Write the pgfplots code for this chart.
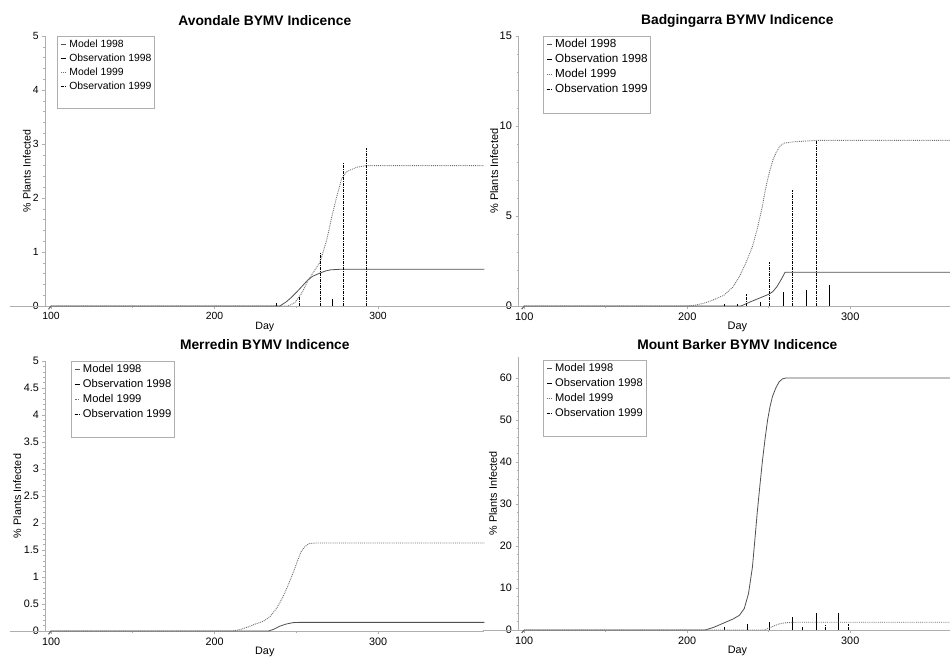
\documentclass[border=0pt]{standalone}
\usepackage{fontspec}
\setmainfont{Liberation Sans}
\usepackage{pgfplots}
\pgfplotsset{compat=1.18}

\definecolor{axgray}{RGB}{175,175,175}
\definecolor{modelA}{RGB}{80,80,80}
\definecolor{modelB}{RGB}{110,110,110}

\pgfplotsset{
  panel/.style={
    scale only axis, clip=false,
    axis x line*=bottom, axis y line*=left,
    axis line style={axgray, line width=0.8pt},
    tick style={axgray, line width=0.6pt},
    tick align=outside,
    major tick length=3pt, minor tick length=2pt,
    xmin=96.5, xmax=365, ymin=0,
    xtick={100,200,300}, minor x tick num=1,
    /pgf/number format/assume math mode=true,
    xlabel={Day}, ylabel={\% Plants Infected},
    xlabel style={at={(axis description cs:0.5,0)}, anchor=center, yshift=-21pt},
    title style={font=\fontsize{13.8}{16}\selectfont\bfseries, at={(axis description cs:0.5,1)}, anchor=center},
    legend cell align=left,
    legend image code/.code={\draw[##1] (0pt,0pt) -- (5pt,0pt);},
    legend style={anchor=north west, draw=axgray, line width=0.6pt,
      nodes={inner sep=0pt, text height=8pt, text depth=2pt},
      column sep=3pt, inner xsep=3pt, inner ysep=3pt},
  },
  mod98/.style={modelA, line width=0.8pt},
  mod99/.style={modelB, line width=0.9pt, densely dotted},
  obs98/.style={black, line width=0.8pt, ycomb},
  obs99/.style={black, line width=0.8pt, ycomb, dash pattern=on 3pt off 1pt on 1pt off 1pt},
}

\begin{document}
\begin{tikzpicture}
\useasboundingbox (0,0) rectangle (950pt,657pt);
\clip (0,0) rectangle (950pt,657pt);

% Avondale
\begin{axis}[panel, at={(45.3pt,351pt)}, anchor=south west,
  width=439pt, height=270pt, ymax=5, ytick={0,1,2,3,4,5}, minor y tick num=4,
  title={Avondale BYMV Indicence}, title style={yshift=9.3pt},
  ylabel style={at={(axis description cs:-0.042,0.5)}, anchor=center},
  ticklabel style={font=\fontsize{10.4}{12}\selectfont},
  label style={font=\fontsize{10.6}{12}\selectfont},
  legend style={at={(axis description cs:0.027,1)}, font=\fontsize{10.4}{12}\selectfont, row sep=4pt},
]
\draw[axgray, line width=0.8pt] (axis cs:75,0) -- (axis cs:96.5,0);
\addplot[mod98] coordinates {(98.5,-0.06) (100,0) (240,0) (244,0.08) (247,0.16) (250,0.25) (254,0.38) (257,0.48) (260,0.55) (264.5,0.61) (268,0.65) (271,0.67) (277,0.68) (365,0.68)};
\addlegendentry{Model 1998}
\addplot[obs98] coordinates {(238,0.05) (272,0.13)};
\addlegendentry{Observation 1998}
\addplot[mod99] coordinates {(98.5,-0.06) (100,0) (245,0) (249,0.06) (253,0.22) (257,0.46) (261,0.65) (264.5,0.81) (268.6,1.22) (271.7,1.65) (274.7,2.02) (277.8,2.36) (280.9,2.49) (287,2.57) (293,2.6) (365,2.6)};
\addlegendentry{Model 1999}
\addplot[obs99] coordinates {(251.7,0.17) (265,0.98) (279,2.65) (293,2.92)};
\addlegendentry{Observation 1999}
\addlegendimage{empty legend}\addlegendentry{}
\end{axis}

% Badgingarra
\begin{axis}[panel, at={(518.5pt,351pt)}, anchor=south west,
  width=437.7pt, height=270pt, ymax=15, ytick={0,5,10,15}, minor y tick num=4,
  title={Badgingarra BYMV Indicence}, title style={yshift=9.3pt},
  ylabel style={at={(axis description cs:-0.0558,0.5)}, anchor=center},
  ticklabel style={font=\fontsize{11}{12}\selectfont},
  label style={font=\fontsize{11}{12}\selectfont},
  legend style={at={(axis description cs:0.056,1)}, font=\fontsize{11.7}{13}\selectfont, row sep=5.2pt},
]
\draw[axgray, line width=0.8pt] (axis cs:75,0) -- (axis cs:96.5,0);
\addplot[mod98] coordinates {(98.5,-0.17) (100,0) (233,0) (240,0.28) (246,0.5) (250,0.65) (252.5,0.8) (255,1.07) (257.5,1.45) (260,1.87) (365,1.87)};
\addlegendentry{Model 1998}
\addplot[obs98] coordinates {(222.7,0.12) (230.6,0.1) (244.6,0.24) (258.9,0.76) (272.8,0.89) (287,1.17)};
\addlegendentry{Observation 1998}
\addplot[mod99] coordinates {(98.5,-0.17) (100,0) (200,0) (205,0.05) (210,0.15) (215,0.3) (222.7,0.61) (228,1.05) (232,1.63) (236,2.4) (240,3.3) (243,4.3) (246,5.5) (248,6.5) (250.3,7.4) (252.5,8.1) (254.4,8.5) (257,8.9) (259.5,9.05) (265,9.12) (279,9.2) (365,9.2)};
\addlegendentry{Model 1999}
\addplot[obs99] coordinates {(236.4,0.67) (250.5,2.46) (264.6,6.44) (279,9.22)};
\addlegendentry{Observation 1999}
\addlegendimage{empty legend}\addlegendentry{}
\end{axis}

% Merredin
\begin{axis}[panel, at={(45.3pt,26pt)}, anchor=south west,
  width=439pt, height=270pt, ymax=5, ytick={0,0.5,...,5}, minor y tick num=4,
  title={Merredin BYMV Indicence}, title style={yshift=10pt},
  ylabel style={at={(axis description cs:-0.064,0.5)}, anchor=center},
  ticklabel style={font=\fontsize{10.8}{12}\selectfont},
  label style={font=\fontsize{10.8}{12}\selectfont},
  legend style={at={(axis description cs:0.058,1)}, font=\fontsize{11.2}{13}\selectfont, row sep=5pt},
]
\draw[axgray, line width=0.8pt] (axis cs:75,0) -- (axis cs:96.5,0);
\addplot[mod98] coordinates {(98.5,-0.06) (100,0) (233,0) (236,0.03) (240,0.09) (244,0.13) (248,0.155) (252,0.16) (365,0.16)};
\addlegendentry{Model 1998}
\addlegendimage{obs98}
\addlegendentry{Observation 1998}
\addplot[mod99] coordinates {(98.5,-0.06) (100,0) (211,0) (216,0.03) (221,0.08) (225,0.13) (228,0.16) (231,0.2) (234,0.27) (238,0.42) (242,0.64) (245,0.85) (248,1.07) (250.5,1.28) (253,1.47) (255.5,1.57) (258,1.62) (262,1.63) (365,1.63)};
\addlegendentry{Model 1999}
\addlegendimage{obs99}
\addlegendentry{Observation 1999}
\addlegendimage{empty legend}\addlegendentry{}
\end{axis}

% Mount Barker
\begin{axis}[panel, at={(518.5pt,27pt)}, anchor=south west,
  width=437.7pt, height=273pt, ymax=65, ytick={0,10,...,60}, minor y tick num=4,
  title={Mount Barker BYMV Indicence}, title style={yshift=6pt},
  ylabel style={at={(axis description cs:-0.058,0.5)}, anchor=center},
  ticklabel style={font=\fontsize{10.8}{12}\selectfont},
  label style={font=\fontsize{10.8}{12}\selectfont},
  legend style={at={(axis description cs:0.056,0.99)}, font=\fontsize{11.1}{13}\selectfont, row sep=5pt},
]
\draw[axgray, line width=0.8pt] (axis cs:75,0) -- (axis cs:96.5,0);
\addplot[mod98] coordinates {(98.5,-0.7) (100,0) (211,0) (216,0.6) (222,1.6) (228,2.6) (232,3.5) (235,5.1) (237.6,8.7) (240,15) (241.5,21.5) (243,28.2) (244.6,34.5) (246.2,40.5) (247.8,45.7) (249.3,50) (250.8,53.2) (252.3,55.6) (254.3,57.6) (256.4,59.1) (258.5,59.8) (260.5,60) (365,60)};
\addlegendentry{Model 1998}
\addplot[obs98] coordinates {(222.7,0.6) (237,1.4) (250.3,1.9) (264.6,3.1) (279,4.0) (292.8,4.1)};
\addlegendentry{Observation 1998}
\addplot[mod99] coordinates {(98.5,-0.7) (100,0) (247,0) (250,0.4) (253,0.95) (256,1.4) (259,1.65) (262,1.78) (268,1.85) (365,1.85)};
\addlegendentry{Model 1999}
\addplot[obs99] coordinates {(270.7,0.7) (285,1.1) (299,1.5)};
\addlegendentry{Observation 1999}
\addlegendimage{empty legend}\addlegendentry{}
\end{axis}
\end{tikzpicture}
\end{document}
